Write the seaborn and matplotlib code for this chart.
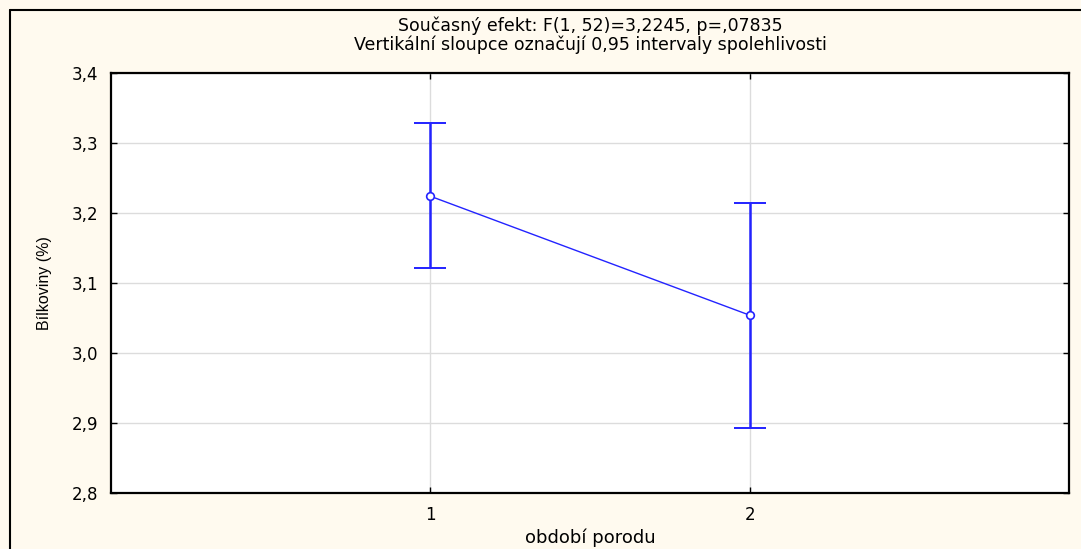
import matplotlib
matplotlib.use("Agg")
import matplotlib.pyplot as plt
from matplotlib import font_manager
from matplotlib.ticker import FuncFormatter, FixedLocator
from matplotlib.lines import Line2D
import seaborn as sns
import pandas as pd

# ---- data ----
periods = [1, 2]
means = [3.224, 3.054]
ci_low = [3.121, 2.893]
ci_high = [3.328, 3.214]
y_ticks = [2.8, 2.9, 3.0, 3.1, 3.2, 3.3, 3.4]
x_ticks = [1, 2]
title_1 = "Současný efekt: F(1, 52)=3,2245, p=,07835"
title_2 = "Vertikální sloupce označují 0,95 intervaly spolehlivosti"
x_label = "období porodu"
y_label = "Bílkoviny (%)"

sns.set_style("white")
plt.rcParams["font.family"] = ["DejaVu Sans"]

BLUE = "#2323ff"
BG = "#fffaef"

# narrow font for the y label if available
try:
    font_manager.findfont(font_manager.FontProperties(family="Liberation Sans Narrow"),
                          fallback_to_default=False)
    ylab_family, ylab_size = ["Liberation Sans Narrow", "DejaVu Sans"], 13
except Exception:
    ylab_family, ylab_size = ["Liberation Sans", "DejaVu Sans"], 11.5

fig = plt.figure(figsize=(10.81, 5.49), dpi=100, facecolor=BG)
ax = fig.add_axes([111 / 1081, 56 / 549, 958 / 1081, 420 / 549])
ax.set_facecolor("white")

df = pd.DataFrame({"x": periods, "y": means})
yerr = [[m - lo for m, lo in zip(means, ci_low)],
        [hi - m for m, hi in zip(means, ci_high)]]
ax.errorbar(periods, means, yerr=yerr, fmt="none", ecolor=BLUE,
            elinewidth=1.8, capsize=11.5, capthick=1.4, zorder=3)
sns.lineplot(data=df, x="x", y="y", ax=ax, color=BLUE, linewidth=1.0,
             marker="o", markersize=5.5, markerfacecolor="white",
             markeredgecolor=BLUE, markeredgewidth=1.2, zorder=4)

ax.set_xlim(0, 3)
ax.set_ylim(2.8, 3.4)
ax.xaxis.set_major_locator(FixedLocator(x_ticks))
ax.yaxis.set_major_locator(FixedLocator(y_ticks))
ax.yaxis.set_major_formatter(FuncFormatter(lambda v, p: f"{v:.1f}".replace(".", ",")))
ax.grid(True, color="#dcdcdc", linewidth=1.0)
ax.set_axisbelow(True)
for s in ax.spines.values():
    s.set_visible(True)
    s.set_color("black")
    s.set_linewidth(1.6)
ax.tick_params(axis="both", which="major", direction="in", length=4, width=1,
               top=True, right=True, bottom=True, left=True,
               labelsize=12, colors="black", pad=9)

ax.set_xlabel(x_label, fontsize=13, color="black")
ax.set_ylabel(y_label, fontsize=ylab_size, color="black", family=ylab_family)
ax.xaxis.set_label_coords(0.5, -0.085)
ax.yaxis.set_label_coords(-0.0615, 0.5)

fig.text(590 / 1081, 1 - 25.5 / 549, title_1, ha="center", va="center",
         fontsize=12.5, color="black")
fig.text(590 / 1081, 1 - 44.5 / 549, title_2, ha="center", va="center",
         fontsize=12.5, color="black")

# outer frame (left and top edges)
fig.add_artist(Line2D([10 / 1081, 10 / 1081], [0, 1 - 10 / 549],
                      transform=fig.transFigure, color="black", linewidth=1.5))
fig.add_artist(Line2D([10 / 1081, 1], [1 - 10 / 549, 1 - 10 / 549],
                      transform=fig.transFigure, color="black", linewidth=1.5))

fig.savefig("out.png", dpi=100, facecolor=BG)
